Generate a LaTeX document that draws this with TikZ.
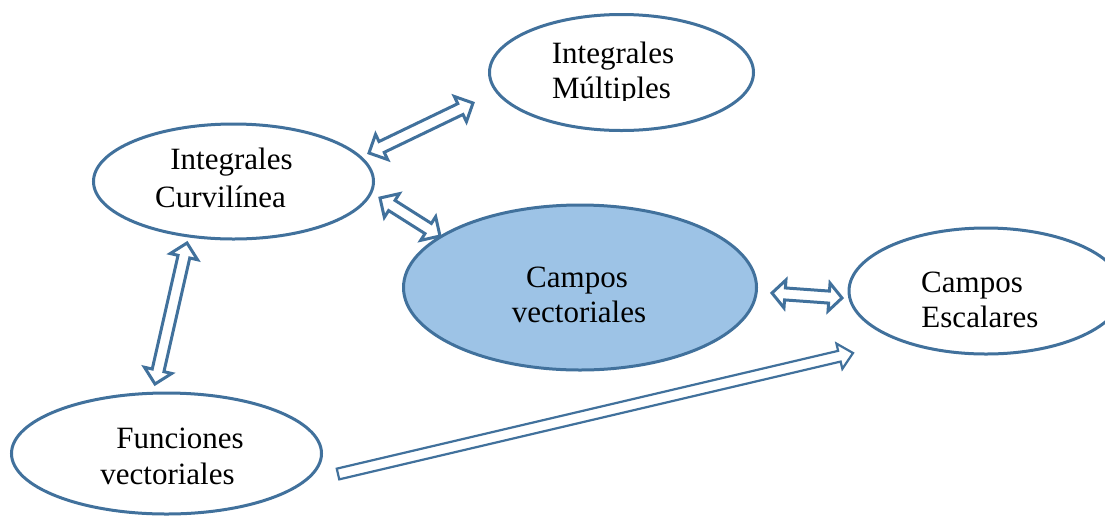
\documentclass[tikz,border=0pt]{standalone}
\usepackage{fontspec}
\setmainfont{Liberation Serif}
\usetikzlibrary{shapes.geometric,calc}
\definecolor{edgeblue}{RGB}{65,113,156}
\definecolor{fillblue}{RGB}{157,195,230}
\tikzset{
  ell/.style={ellipse, draw=edgeblue, line width=3pt, fill=white, inner sep=0pt},
  txt/.style={anchor=base, inner sep=0pt, font=\fontsize{31}{35}\selectfont, text=black},
  barrow/.style={draw=edgeblue, line width=3pt, line join=miter, fill=white},
  sarrow/.style={draw=edgeblue, line width=2.2pt, line join=miter, fill=white}
}
% double block arrow: start, end, shaft half width, head half width, head length
\newcommand\dblblockarrow[6]{%
  \path ($(#1)!#5!(#2)$) coordinate (ba1) ($(#2)!#5!(#1)$) coordinate (ba2);
  \draw[#6] (#1) -- ($(ba1)!#4!90:(#2)$) -- ($(ba1)!#3!90:(#2)$)
    -- ($(ba2)!#3!-90:(#1)$) -- ($(ba2)!#4!-90:(#1)$) -- (#2)
    -- ($(ba2)!#4!90:(#1)$) -- ($(ba2)!#3!90:(#1)$)
    -- ($(ba1)!#3!-90:(#2)$) -- ($(ba1)!#4!-90:(#2)$) -- cycle;
}
% single block arrow: tail, tip, shaft half width, head half width, head length
\newcommand\oneblockarrow[6]{%
  \path ($(#2)!#5!(#1)$) coordinate (ba2);
  \draw[#6] ($(#1)!#3!90:(#2)$) -- ($(ba2)!#3!-90:(#1)$) -- ($(ba2)!#4!-90:(#1)$) -- (#2)
    -- ($(ba2)!#4!90:(#1)$) -- ($(ba2)!#3!90:(#1)$) -- ($(#1)!#3!-90:(#2)$) -- cycle;
}
\begin{document}
\begin{tikzpicture}[x=1pt,y=-1pt]
\clip (0,0) rectangle (1105,515);
\fill[white] (0,0) rectangle (1105,515);

% ellipses
\node[ell, minimum width=264pt, minimum height=116pt] (mult) at (621.5,72.5) {};
\node[ell, minimum width=280pt, minimum height=115pt] (curv) at (233.5,181.5) {};
\node[ell, fill=fillblue, minimum width=353pt, minimum height=165pt] (cvec) at (580,287.5) {};
\node[ell, minimum width=274pt, minimum height=126pt] (cesc) at (986,291) {};
\node[ell, minimum width=310pt, minimum height=121pt] (func) at (166.5,453.5) {};

% texts
\node[txt] (multA) at (613,63) {Integrales};
\begin{scope}
  \clip (480,0) rectangle (760,100);
  \node[txt] (multB) at (611.5,98) {Múltiples};
\end{scope}
\node[txt] (curvA) at (231.5,169) {Integrales};
\node[txt] (curvB) at (220.5,207) {Curvilínea};
\node[txt] (cvecA) at (577,287) {Campos};
\node[txt] (cvecB) at (579,322) {vectoriales};
\node[txt] (cescA) at (972,292) {Campos};
\node[txt] (cescB) at (980,327) {Escalares};
\node[txt] (funcA) at (180,448) {Funciones};
\node[txt] (funcB) at (167.5,484) {vectoriales};

% arrow end points
\coordinate (a1s) at (369,153);
\coordinate (a1e) at (473,103);
\coordinate (a2s) at (380,198);
\coordinate (a2e) at (440,236);
\coordinate (a3s) at (187,243);
\coordinate (a3e) at (155,384);
\coordinate (a4s) at (772,293);
\coordinate (a4e) at (842,298);
\coordinate (a5s) at (338,474);
\coordinate (a5e) at (853,353);

\dblblockarrow{a1s}{a1e}{6pt}{14pt}{14pt}{barrow}
\dblblockarrow{a2s}{a2e}{6pt}{14pt}{14pt}{barrow}
\dblblockarrow{a3s}{a3e}{6pt}{14pt}{14pt}{barrow}
\dblblockarrow{a4s}{a4e}{6pt}{14pt}{13pt}{barrow}
\oneblockarrow{a5s}{a5e}{5.5pt}{13pt}{14pt}{sarrow}
\end{tikzpicture}
\end{document}
